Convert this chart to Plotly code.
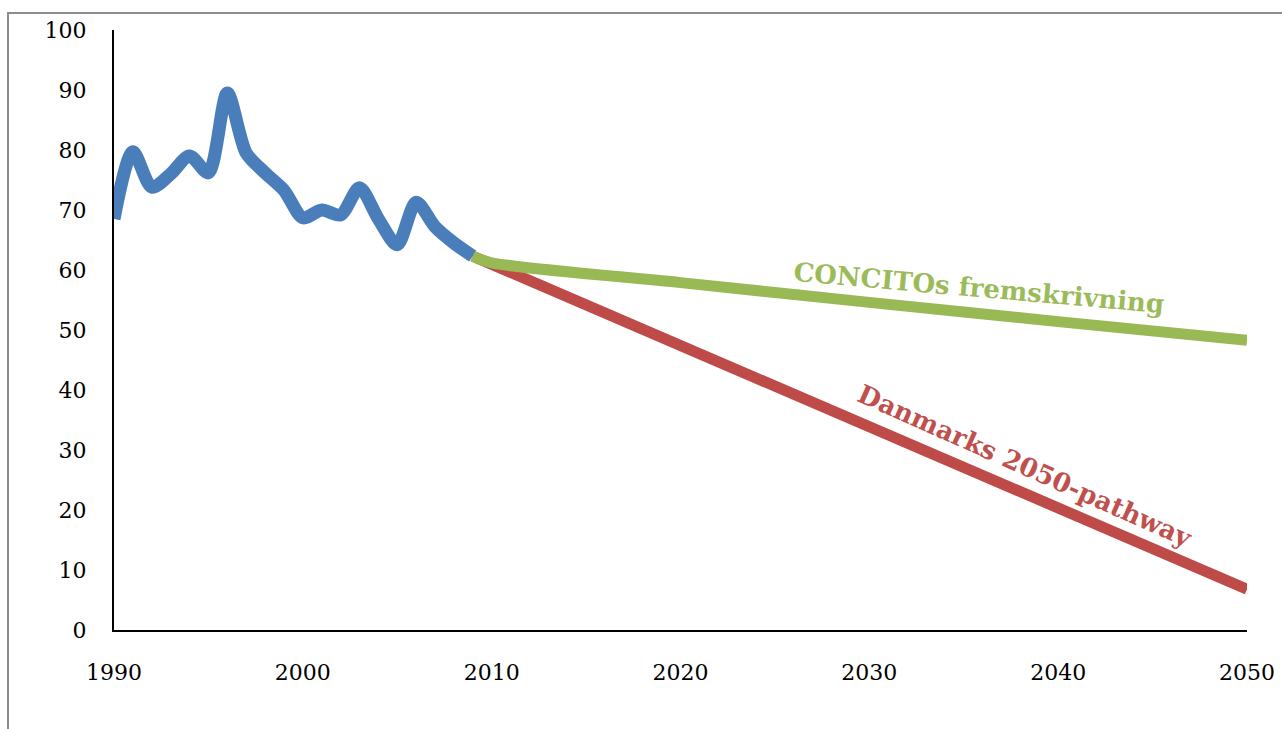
import plotly.graph_objects as go

# Historical series (blue)
hist_years = list(range(1990, 2010))
hist_values = [68.5, 79.7, 73.8, 76.0, 79.0, 76.2, 89.5, 79.5, 76.2, 73.3,
               68.7, 70.0, 69.2, 73.7, 68.5, 64.2, 71.3, 67.2, 64.5, 62.3]

# CONCITO projection (green)
concito_years = [2009, 2010, 2020, 2030, 2040, 2050]
concito_values = [62.3, 61.2, 57.9, 54.6, 51.4, 48.3]

# Denmark 2050 pathway (red)
pathway_years = [2009, 2050]
pathway_values = [62.3, 6.8]

x_ticks = [1990, 2000, 2010, 2020, 2030, 2040, 2050]
y_ticks = [0, 10, 20, 30, 40, 50, 60, 70, 80, 90, 100]

BLUE = "#4A7EBB"
RED = "#BE4B48"
GREEN = "#98B954"
FONT = "DejaVu Serif"

fig = go.Figure()
fig.add_trace(go.Scatter(x=hist_years, y=hist_values, mode="lines",
                         line=dict(color=BLUE, width=13, shape="spline", smoothing=0.8),
                         showlegend=False, hoverinfo="skip"))
fig.add_trace(go.Scatter(x=pathway_years, y=pathway_values, mode="lines",
                         line=dict(color=RED, width=11),
                         showlegend=False, hoverinfo="skip"))
fig.add_trace(go.Scatter(x=concito_years, y=concito_values, mode="lines",
                         line=dict(color=GREEN, width=11, shape="spline", smoothing=0.8),
                         showlegend=False, hoverinfo="skip"))

fig.add_annotation(x=2035.8, y=57.0, xref="x", yref="y", text="<b>CONCITOs fremskrivning</b>",
                   showarrow=False, textangle=5, font=dict(family=FONT, size=26, color="#9BBB59"))
fig.add_annotation(x=2038.25, y=27.4, xref="x", yref="y", text="<b>Danmarks 2050-pathway</b>",
                   showarrow=False, textangle=24, font=dict(family=FONT, size=26, color="#C0504D"))

# outer frame
fig.add_shape(type="rect", xref="paper", yref="paper",
              x0=(8 - 114) / 1133, x1=(1300 - 114) / 1133,
              y0=(630 - 760) / 600, y1=(630 - 13) / 600,
              line=dict(color="#8C8C8C", width=2), fillcolor="rgba(0,0,0,0)", layer="below")

fig.update_layout(
    width=1282, height=729,
    margin=dict(l=114, r=35, t=30, b=99, autoexpand=False),
    paper_bgcolor="white", plot_bgcolor="white",
    font=dict(family=FONT, size=22, color="black"),
    xaxis=dict(range=[1990, 2050], tickvals=x_ticks, ticktext=[str(v) for v in x_ticks],
               showgrid=False, zeroline=False, showline=True, linecolor="black", linewidth=2,
               ticks="", ticklabelstandoff=22, tickfont=dict(family=FONT, size=22),
               automargin=False),
    yaxis=dict(range=[0, 100], tickvals=y_ticks, ticktext=[str(v) for v in y_ticks],
               showgrid=False, zeroline=False, showline=True, linecolor="black", linewidth=2,
               ticks="", ticklabelstandoff=21, tickfont=dict(family=FONT, size=22),
               automargin=False),
)

fig.write_html("out.html")
